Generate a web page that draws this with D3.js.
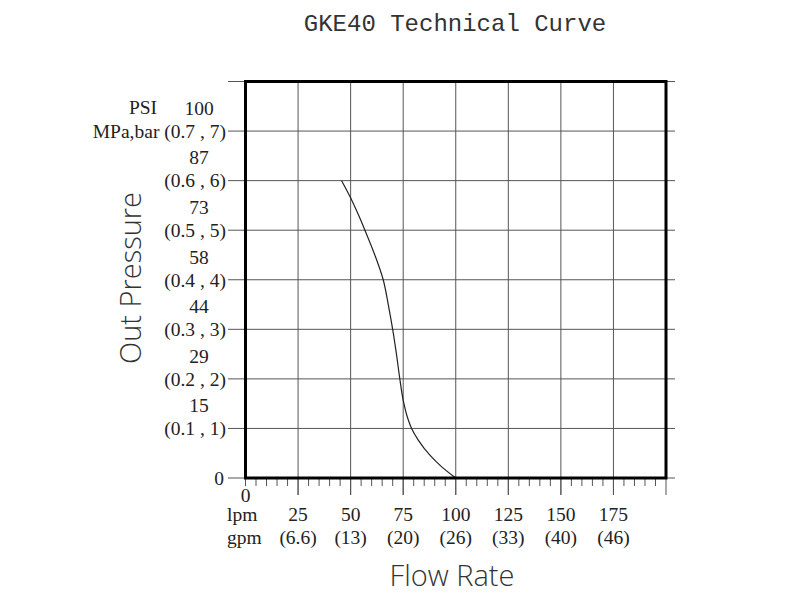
<!DOCTYPE html>
<html>
<head>
<meta charset="utf-8">
<script src="https://cdn.jsdelivr.net/npm/d3@7"></script>
<style>
  body { margin: 0; background: #fff; }
  .tick-label { font-family: "Liberation Serif", "Times New Roman", serif; font-size: 19.5px; fill: #222; }
  .axis-title { font-family: "Open Sans", "Lato", sans-serif; font-weight: 300; font-size: 29px; fill: #333; }
</style>
</head>
<body>
<div id="chart"></div>
<script>
// flow rate ticks (lpm) and their gpm equivalents
var lpmTicks = [25, 50, 75, 100, 125, 150, 175];
var gpmLabels = ["(6.6)", "(13)", "(20)", "(26)", "(33)", "(40)", "(46)"];

// pressure ticks (bar) with MPa,bar and PSI labels
var barTicks = [1, 2, 3, 4, 5, 6, 7];
var barLabels = ["(0.1 , 1)", "(0.2 , 2)", "(0.3 , 3)", "(0.4 , 4)", "(0.5 , 5)", "(0.6 , 6)", "(0.7 , 7)"];
var psiLabels = ["15", "29", "44", "58", "73", "87", "100"];

// curve: flow (lpm) vs out pressure (bar)
var curveFlow = [45.7, 49.8, 53.5, 56.8, 61.5, 65.5, 67.9, 70, 71.8, 73.4, 75, 76.9, 79, 82.1, 87.7, 93.2, 100];
var curvePressure = [6, 5.67, 5.33, 5.0, 4.5, 4.0, 3.5, 3.0, 2.5, 2.0, 1.57, 1.24, 1.0, 0.77, 0.46, 0.23, 0];

var width = 800, height = 600;
var svg = d3.select('#chart').append('svg')
            .attr('width', width)
            .attr('height', height);

var x = d3.scaleLinear().domain([0, 200]).range([245.5, 666]);
var y = d3.scaleLinear().domain([0, 8]).range([478, 81.5]);

// title
svg.append('text')
   .attr('x', 455).attr('y', 31)
   .attr('text-anchor', 'middle')
   .style('font-family', '"Liberation Mono", "DejaVu Sans Mono", monospace')
   .style('font-size', '24px')
   .style('fill', '#333')
   .text('GKE40 Technical Curve');

var grid = svg.append('g').style('stroke', '#555').style('stroke-width', 1);

// horizontal grid lines, extend past the frame
grid.selectAll('.hgrid')
    .data(d3.range(0, 9)).enter()
    .append('line')
    .attr('class', 'hgrid')
    .attr('x1', 228).attr('x2', 675)
    .attr('y1', function(d) { return y(d); })
    .attr('y2', function(d) { return y(d); });

// vertical grid lines
grid.selectAll('.vgrid')
    .data(lpmTicks).enter()
    .append('line')
    .attr('class', 'vgrid')
    .attr('x1', function(d) { return x(d); })
    .attr('x2', function(d) { return x(d); })
    .attr('y1', y(8)).attr('y2', 495);

// ticks under the axis every 5 lpm
grid.selectAll('.minor')
    .data(d3.range(0, 201, 5)).enter()
    .append('line')
    .attr('class', 'minor')
    .attr('x1', function(d) { return x(d); })
    .attr('x2', function(d) { return x(d); })
    .attr('y1', y(0))
    .attr('y2', function(d) { return (d % 25 === 0 && d > 0) ? 495 : 486; });

// curve
var line = d3.line()
    .x(function(d) { return x(d[0]); })
    .y(function(d) { return y(d[1]); })
    .curve(d3.curveMonotoneY);

svg.append('path')
   .datum(d3.zip(curveFlow, curvePressure))
   .attr('d', line)
   .style('fill', 'none')
   .style('stroke', '#222')
   .style('stroke-width', 1.2);

// thick frame
svg.append('rect')
   .attr('x', x(0)).attr('y', y(8))
   .attr('width', x(200) - x(0))
   .attr('height', y(0) - y(8))
   .style('fill', 'none')
   .style('stroke', '#000')
   .style('stroke-width', 3);

// y labels
svg.selectAll('.barlabel')
   .data(barTicks).enter()
   .append('text')
   .attr('class', 'tick-label')
   .attr('x', 226)
   .attr('y', function(d) { return y(d); })
   .attr('dy', '0.35em')
   .attr('text-anchor', 'end')
   .text(function(d, i) { return (d === 7 ? 'MPa,bar ' : '') + barLabels[i]; });

svg.selectAll('.psilabel')
   .data(barTicks).enter()
   .append('text')
   .attr('class', 'tick-label')
   .attr('x', 199)
   .attr('y', function(d) { return y(d) - 23; })
   .attr('dy', '0.35em')
   .attr('text-anchor', 'middle')
   .text(function(d, i) { return psiLabels[i]; });

svg.append('text').attr('class', 'tick-label')
   .attr('x', 143).attr('y', y(7) - 24).attr('dy', '0.35em')
   .attr('text-anchor', 'middle').text('PSI');

svg.append('text').attr('class', 'tick-label')
   .attr('x', 224).attr('y', y(0)).attr('dy', '0.35em')
   .attr('text-anchor', 'end').text('0');

// x labels
svg.append('text').attr('class', 'tick-label')
   .attr('x', x(0)).attr('y', 495).attr('dy', '0.35em')
   .attr('text-anchor', 'middle').text('0');

svg.append('text').attr('class', 'tick-label')
   .attr('x', 227).attr('y', 514).attr('dy', '0.35em')
   .text('lpm');

svg.append('text').attr('class', 'tick-label')
   .attr('x', 227).attr('y', 537).attr('dy', '0.35em')
   .text('gpm');

svg.selectAll('.lpmlabel')
   .data(lpmTicks).enter()
   .append('text')
   .attr('class', 'tick-label')
   .attr('x', function(d) { return x(d); })
   .attr('y', 514).attr('dy', '0.35em')
   .attr('text-anchor', 'middle')
   .text(function(d) { return d; });

svg.selectAll('.gpmlabel')
   .data(lpmTicks).enter()
   .append('text')
   .attr('class', 'tick-label')
   .attr('x', function(d) { return x(d); })
   .attr('y', 537).attr('dy', '0.35em')
   .attr('text-anchor', 'middle')
   .text(function(d, i) { return gpmLabels[i]; });

// axis titles
svg.append('text').attr('class', 'axis-title')
   .attr('transform', 'translate(141,278) rotate(-90)')
   .attr('text-anchor', 'middle')
   .text('Out Pressure');

svg.append('text').attr('class', 'axis-title')
   .attr('x', 452).attr('y', 586)
   .attr('text-anchor', 'middle')
   .text('Flow Rate');
</script>
</body>
</html>
